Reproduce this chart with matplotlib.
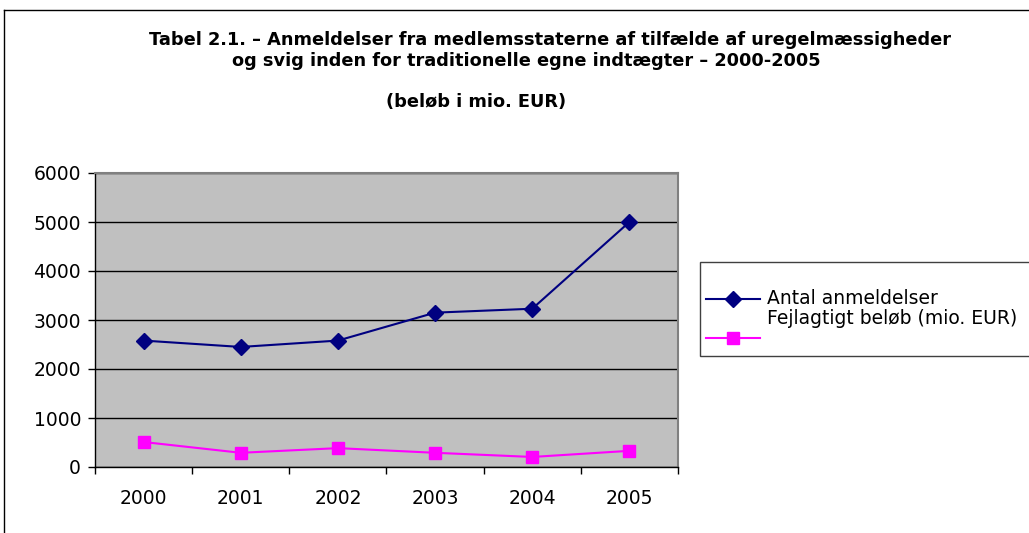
import matplotlib
matplotlib.use("Agg")
import matplotlib.pyplot as plt
from matplotlib.lines import Line2D
from matplotlib.patches import Rectangle

plt.rcParams['font.family'] = ['DejaVu Sans']

years = ["2000", "2001", "2002", "2003", "2004", "2005"]
antal = [2580, 2450, 2580, 3150, 3230, 5000]
fejl = [510, 290, 385, 290, 205, 330]
yticks = [0, 1000, 2000, 3000, 4000, 5000, 6000]
series_names = ["Antal anmeldelser", "Fejlagtigt beløb (mio. EUR)"]
title_lines = [
    "Tabel 2.1. – Anmeldelser fra medlemsstaterne af tilfælde af uregelmæssigheder",
    "og svig inden for traditionelle egne indtægter – 2000-2005",
    "(beløb i mio. EUR)",
]

W, H = 1029, 533
fig = plt.figure(figsize=(W / 100, H / 100), dpi=100)

def fx(px):
    return px / W

def fy(py):
    return 1 - py / H

# figure border (left and top)
fig.add_artist(Line2D([fx(4), fx(4)], [fy(10), 0], color='black', lw=1))
fig.add_artist(Line2D([fx(4), 1], [fy(10), fy(10)], color='black', lw=1))

ax = fig.add_axes([fx(95), fy(467), fx(678) - fx(95), fy(173) - fy(467)])
ax.set_facecolor('#C0C0C0')
x = list(range(len(years)))

ax.plot(x, antal, color='#000080', lw=1.5, marker='D', markersize=8.5,
        markerfacecolor='#000080', markeredgecolor='#000080', zorder=3)
ax.plot(x, fejl, color='#FF00FF', lw=1.5, marker='s', markersize=8,
        markerfacecolor='#FF00FF', markeredgecolor='#FF00FF', zorder=3)

ax.set_xlim(-0.5, len(years) - 0.5)
ax.set_ylim(0, 6000)
ax.set_yticks(yticks)
ax.set_yticklabels([str(v) for v in yticks], fontsize=13.5)
ax.yaxis.grid(True, color='black', lw=1)
ax.set_axisbelow(True)
ax.tick_params(axis='y', length=5, width=1, pad=5)

ax.set_xticks([i - 0.5 for i in range(len(years) + 1)])
ax.set_xticklabels([])
ax.set_xticks(x, minor=True)
ax.set_xticklabels(years, minor=True, fontsize=13.5)
ax.tick_params(axis='x', which='major', length=5, width=1, direction='out')
ax.tick_params(axis='x', which='minor', length=0, pad=16)

for s in ['top', 'right']:
    ax.spines[s].set_color('#808080')
    ax.spines[s].set_linewidth(1.5)
for s in ['left', 'bottom']:
    ax.spines[s].set_color('black')
    ax.spines[s].set_linewidth(1)

# title
tkw = dict(ha='center', va='center', fontsize=12.8, fontweight='bold')
fig.text(fx(550), fy(40), title_lines[0], **tkw)
fig.text(fx(526), fy(61), title_lines[1], **tkw)
fig.text(fx(476), fy(102), title_lines[2], **tkw)

# legend
fig.add_artist(Rectangle((fx(700), fy(356)), 1 - fx(700) + 0.01, fy(262) - fy(356),
                         transform=fig.transFigure, facecolor='white', edgecolor='#404040', lw=1))
fig.add_artist(Line2D([fx(706), fx(760)], [fy(299), fy(299)], color='#000080', lw=1.5))
fig.add_artist(Line2D([fx(733)], [fy(299)], color='#000080', marker='D', markersize=8.5, lw=0))
fig.add_artist(Line2D([fx(706), fx(760)], [fy(338), fy(338)], color='#FF00FF', lw=1.5))
fig.add_artist(Line2D([fx(733)], [fy(338)], color='#FF00FF', marker='s', markersize=8, lw=0))
fig.text(fx(767), fy(298), series_names[0], ha='left', va='center', fontsize=13.5)
fig.text(fx(767), fy(318), series_names[1], ha='left', va='center', fontsize=13.5)

fig.savefig('out.png', dpi=100)
